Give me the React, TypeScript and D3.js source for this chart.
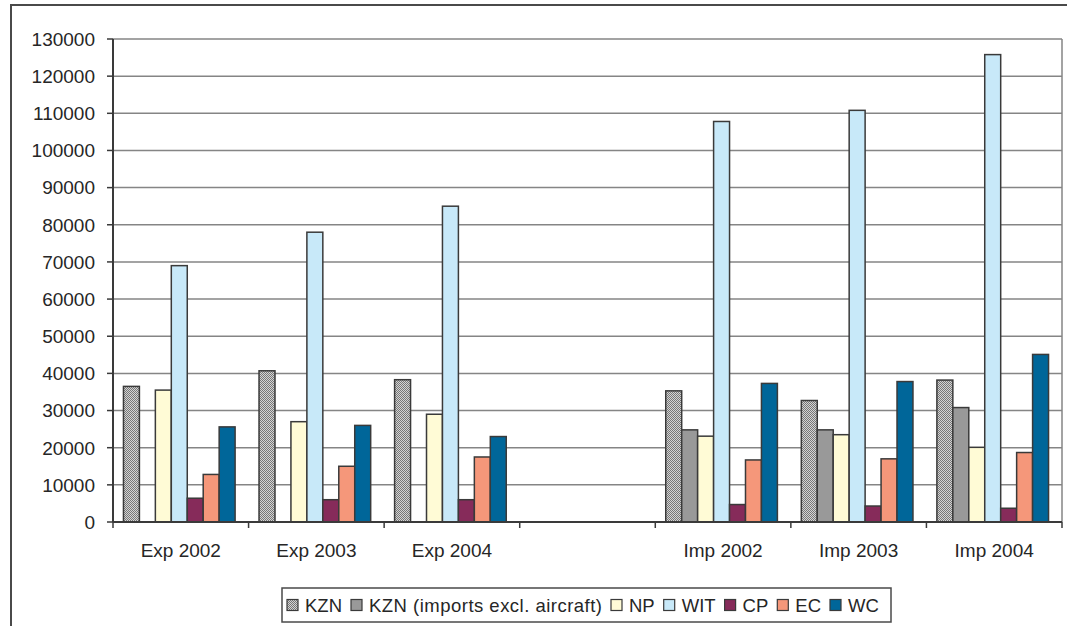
import React, { useMemo } from "react";
import * as d3 from "d3";

// Categories along the x axis (blank slot separates exports from imports)
const categories = ["Exp 2002", "Exp 2003", "Exp 2004", "", "Imp 2002", "Imp 2003", "Imp 2004"];

const seriesNames = ["KZN", "KZN (imports excl. aircraft)", "NP", "WIT", "CP", "EC", "WC"];

// Values per series, one entry per category (null = no bar)
const kzn = [36500, 40700, 38300, null, 35300, 32700, 38200];
const kznExclAircraft = [null, null, null, null, 24800, 24800, 30800];
const np = [35500, 27000, 29000, null, 23100, 23500, 20100];
const wit = [69000, 78000, 85000, null, 107800, 110800, 125800];
const cp = [6400, 6000, 6000, null, 4700, 4300, 3700];
const ec = [12800, 15000, 17500, null, 16700, 17000, 18700];
const wc = [25600, 26000, 23000, null, 37300, 37800, 45100];

const yTicks = [0, 10000, 20000, 30000, 40000, 50000, 60000, 70000, 80000, 90000, 100000, 110000, 120000, 130000];

const seriesValues = [kzn, kznExclAircraft, np, wit, cp, ec, wc];
const seriesFills = ["url(#kznHatch)", "#999999", "#FFFBD6", "#C8E9F9", "#862B5A", "#F5977A", "#006699"];

const FONT = "'Liberation Sans', Arial, sans-serif";
const TEXT = "#262626";
const LEGEND_FONT = 18.5;

export default function App() {
  const W = 1067;
  const H = 626;
  const left = 113;
  const right = 1062;
  const top = 39;
  const bottom = 522;

  const x = d3.scaleBand<string>().domain(categories.map((_, i) => String(i))).range([left, right]).padding(0);
  const inner = d3
    .scaleBand<string>()
    .domain(seriesNames)
    .range([0, x.bandwidth()])
    .paddingInner(0)
    .paddingOuter(0.75);
  const y = d3.scaleLinear().domain([0, 130000]).range([bottom, top]);

  // Legend layout from measured label widths; the long label is spread a little wider
  const legend = useMemo(() => {
    const ctx = document.createElement("canvas").getContext("2d");
    let cx = 287;
    return seriesNames.map((n, i) => {
      let w = n.length * 10;
      if (ctx) {
        ctx.font = `${LEGEND_FONT}px ${FONT}`;
        w = ctx.measureText(n).width;
      }
      const stretched = n.length > 10 ? 233 : null;
      if (stretched) w = stretched;
      const item = { name: n, fill: seriesFills[i], x: cx, tx: cx + 18, len: stretched };
      cx += 18 + w + 9;
      return item;
    });
  }, []);

  const bandEdges = d3.range(categories.length + 1).map((i) => left + i * x.step());

  return (
    <svg
      width={W}
      height={H}
      style={{ position: "absolute", left: 0, top: 0, background: "#fff" }}
      fontFamily={FONT}
    >
      <defs>
        <pattern id="kznHatch" width="2" height="2" patternUnits="userSpaceOnUse">
          <rect width="2" height="2" fill="#d4d4d4" />
          <rect width="1" height="1" fill="#777" />
          <rect x="1" y="1" width="1" height="1" fill="#777" />
        </pattern>
      </defs>

      {/* outer frame */}
      <rect x={11} y={5} width={1100} height={700} fill="#fff" stroke="#4a4a4a" strokeWidth={2} />

      {/* gridlines */}
      {yTicks.map((t) =>
        t === 0 ? null : (
          <line key={t} x1={left} x2={right} y1={y(t)} y2={y(t)} stroke="#858585" strokeWidth={1.5} />
        )
      )}
      <line x1={right} x2={right} y1={top} y2={bottom} stroke="#858585" strokeWidth={1.5} />

      {/* bars */}
      {seriesValues.map((vals, s) =>
        vals.map((v, c) =>
          v == null ? null : (
            <rect
              key={`${s}-${c}`}
              x={(x(String(c)) as number) + (inner(seriesNames[s]) as number) - 1.5}
              y={y(v)}
              width={inner.bandwidth()}
              height={y(0) - y(v)}
              fill={seriesFills[s]}
              stroke="#3a3a3a"
              strokeWidth={1.5}
            />
          )
        )
      )}

      {/* y axis */}
      <line x1={left} x2={left} y1={top} y2={bottom} stroke="#3a3a3a" strokeWidth={2} />
      {yTicks.map((t) => (
        <g key={`yt${t}`}>
          <line x1={left - 6} x2={left} y1={y(t)} y2={y(t)} stroke="#3a3a3a" strokeWidth={1.5} />
          <text x={95} y={y(t)} dy="0.36em" textAnchor="end" fontSize={19} fill={TEXT}>
            {t}
          </text>
        </g>
      ))}

      {/* x axis */}
      <line x1={left} x2={right} y1={bottom} y2={bottom} stroke="#3a3a3a" strokeWidth={2} />
      {bandEdges.map((bx, i) => (
        <line key={`xt${i}`} x1={bx} x2={bx} y1={bottom} y2={bottom + 6} stroke="#3a3a3a" strokeWidth={1.5} />
      ))}
      {categories.map((c, i) => (
        <text
          key={`xl${i}`}
          x={(x(String(i)) as number) + x.bandwidth() / 2}
          y={557}
          textAnchor="middle"
          fontSize={19}
          fill={TEXT}
        >
          {c}
        </text>
      ))}

      {/* legend */}
      <rect x={282} y={588} width={609} height={34} fill="#fff" stroke="#4a4a4a" strokeWidth={1.5} />
      {legend.map((it) => (
        <g key={it.name}>
          <rect x={it.x} y={599.5} width={11} height={11} fill={it.fill} stroke="#3a3a3a" strokeWidth={1.2} />
          <text
            x={it.tx}
            y={605}
            dy="0.36em"
            fontSize={LEGEND_FONT}
            fill={TEXT}
            {...(it.len ? { textLength: it.len, lengthAdjust: "spacing" } : {})}
          >
            {it.name}
          </text>
        </g>
      ))}
    </svg>
  );
}
